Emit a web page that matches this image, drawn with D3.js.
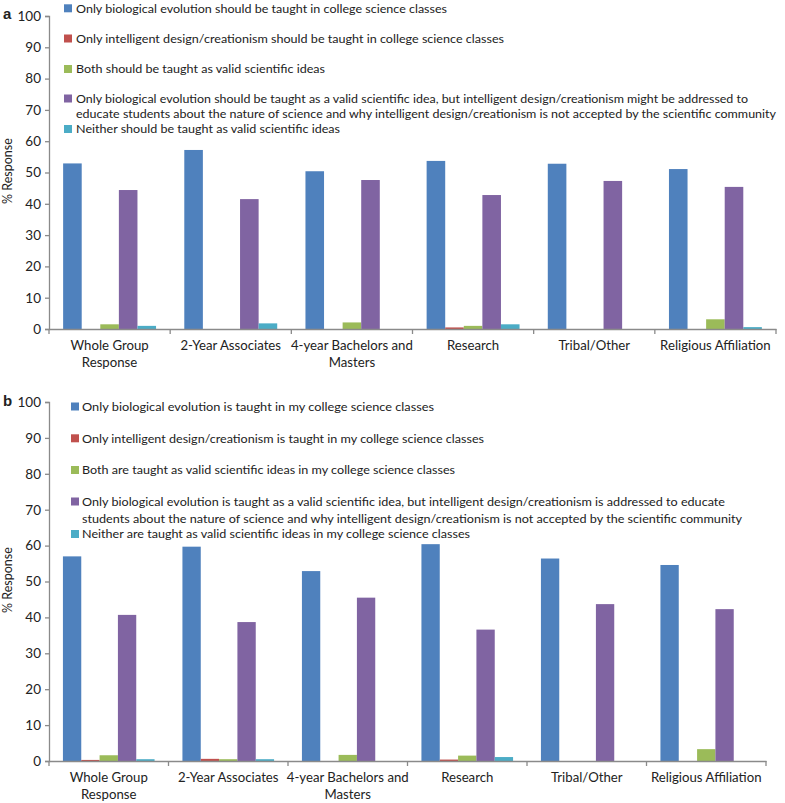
<!DOCTYPE html>
<html><head><meta charset="utf-8">
<script src="https://cdn.jsdelivr.net/npm/d3@7"></script>
<style>body{margin:0;background:#fff}svg{display:block}text{font-family:Lato,"Open Sans",sans-serif;fill:#222}</style>
</head><body>
<svg id="c" width="785" height="803"></svg>
<script>
const categories = ["Whole Group Response","2-Year Associates","4-year Bachelors and Masters","Research","Tribal/Other","Religious Affiliation"];
const categoryLines = [["Whole Group","Response"],["2-Year Associates"],["4-year Bachelors and","Masters"],["Research"],["Tribal/Other"],["Religious Affiliation"]];
const seriesKeys = ["s1","s2","s3","s4","s5"];
const seriesColors = ["#4F81BD","#C0504D","#9BBB59","#8064A2","#4BACC6"];
const yTicks = [0,10,20,30,40,50,60,70,80,90,100];

// Panel a
const aOnlyEvolution = [52.9, 57.2, 50.4, 53.7, 52.8, 51.1];
const aOnlyID        = [0, 0, 0, 0.5, 0, 0];
const aBoth          = [1.5, 0, 2.1, 1.0, 0, 3.1];
const aEvoAddressID  = [44.4, 41.5, 47.6, 42.8, 47.3, 45.4];
const aNeither       = [1.0, 1.8, 0, 1.5, 0, 0.6];
const aLegend = [
  ["Only biological evolution should be taught in college science classes"],
  ["Only intelligent design/creationism should be taught in college science classes"],
  ["Both should be taught as valid scientific ideas"],
  ["Only biological evolution should be taught as a valid scientific idea, but intelligent design/creationism might be addressed to",
   "educate students about the nature of science and why intelligent design/creationism is not accepted by the scientific community"],
  ["Neither should be taught as valid scientific ideas"]
];

// Panel b
const bOnlyEvolution = [57.0, 59.7, 52.9, 60.4, 56.4, 54.6];
const bOnlyID        = [0.3, 0.6, 0, 0.4, 0, 0];
const bBoth          = [1.6, 0.5, 1.7, 1.5, 0, 3.3];
const bEvoAddressID  = [40.7, 38.7, 45.5, 36.6, 43.7, 42.3];
const bNeither       = [0.5, 0.5, 0, 1.1, 0, 0];
const bLegend = [
  ["Only biological evolution is taught in my college science classes"],
  ["Only intelligent design/creationism is taught in my college science classes"],
  ["Both are taught as valid scientific ideas in my college science classes"],
  ["Only biological evolution is taught as a valid scientific idea, but intelligent design/creationism is addressed to educate",
   "students about the nature of science and why intelligent design/creationism is not accepted by the scientific community"],
  ["Neither are taught as valid scientific ideas in my college science classes"]
];

const svg = d3.select("#c");
const axisColor = "#8a8a8a";

function panel(cfg){
  const g = svg.append("g");
  const series = [cfg.s1,cfg.s2,cfg.s3,cfg.s4,cfg.s5];
  const x0 = d3.scaleBand().domain(categories).range([cfg.left, cfg.right]);
  const x1 = d3.scaleBand().domain(seriesKeys).range([0, x0.bandwidth()]).paddingInner(0).paddingOuter(0.76);
  const y = d3.scaleLinear().domain([0,100]).range([cfg.bottom, cfg.top]);

  seriesKeys.forEach((k,si)=>{
    g.append("g").selectAll("rect").data(series[si]).join("rect")
      .attr("x",(d,i)=>x0(categories[i])+x1(k))
      .attr("width",x1.bandwidth())
      .attr("y",d=>y(d))
      .attr("height",d=>y(0)-y(d))
      .attr("fill",seriesColors[si]);
  });

  const ya = g.append("g").attr("transform",`translate(${cfg.left},0)`)
    .call(d3.axisLeft(y).tickValues(yTicks).tickSize(4).tickPadding(4));
  ya.select(".domain").attr("stroke",axisColor).attr("stroke-width",1.3);
  ya.selectAll(".tick line").attr("stroke",axisColor).attr("stroke-width",1.3);
  ya.selectAll(".tick text").attr("font-size",13.5).attr("fill","#222").style("font-family","Lato,sans-serif");

  const xa = g.append("g").attr("transform",`translate(0,${cfg.bottom})`)
    .call(d3.axisBottom(x0).tickSize(0).tickFormat(""));
  xa.select(".domain").attr("stroke",axisColor).attr("stroke-width",1.3);
  xa.selectAll(".tick").remove();
  const bounds = categories.map(c=>x0(c)).concat([cfg.right]);
  xa.selectAll("line.b").data(bounds).join("line").attr("class","b")
    .attr("x1",d=>d).attr("x2",d=>d).attr("y1",0).attr("y2",5)
    .attr("stroke",axisColor).attr("stroke-width",1.3);
  categoryLines.forEach((lines,i)=>{
    lines.forEach((t,j)=>{
      g.append("text").attr("x",x0(categories[i])+x0.bandwidth()/2)
        .attr("y",cfg.bottom+cfg.labelDy+j*16.5)
        .attr("text-anchor","middle").attr("font-size",13.2).text(t);
    });
  });

  g.append("text").attr("transform",`translate(${cfg.yTitleX},${cfg.yTitleY}) rotate(-90)`)
    .attr("text-anchor","middle").attr("font-size",12.5).text("% Response");

  g.append("text").attr("x",3).attr("y",cfg.letterY).attr("font-size",15).attr("font-weight","bold")
    .style("font-family","Liberation Sans, Arial, sans-serif").text(cfg.letter);

  cfg.legend.forEach((lines,i)=>{
    const ly = cfg.legendY[i];
    g.append("rect").attr("x",cfg.legX).attr("y",ly-4).attr("width",8).attr("height",8).attr("fill",seriesColors[i]);
    lines.forEach((t,j)=>{
      g.append("text").attr("x",cfg.legX+cfg.textGap).attr("y",ly+j*cfg.lineGap).attr("dy","0.35em")
        .attr("font-size",12.2)
        .attr("textLength",cfg.legWidths[i][j]).attr("lengthAdjust","spacingAndGlyphs")
        .text(t);
    });
  });
}

panel({left:49,right:776,top:16,bottom:329,s1:aOnlyEvolution,s2:aOnlyID,s3:aBoth,s4:aEvoAddressID,s5:aNeither,
  legend:aLegend,legendY:[8.3,38.5,69,98.5,129],legX:64,textGap:12,lineGap:15.5,
  legWidths:[[371],[428],[249],[672,700],[264]],
  labelDy:21,yTitleX:12,yTitleY:171,letter:"a",letterY:19});
panel({left:49,right:766,top:402,bottom:761,s1:bOnlyEvolution,s2:bOnlyID,s3:bBoth,s4:bEvoAddressID,s5:bNeither,
  legend:bLegend,legendY:[406.5,438.3,470,501.5,534],legX:71,textGap:11,lineGap:17,
  legWidths:[[352],[402],[373],[643,660],[388]],
  labelDy:21,yTitleX:12,yTitleY:580,letter:"b",letterY:406});
</script>
</body></html>
